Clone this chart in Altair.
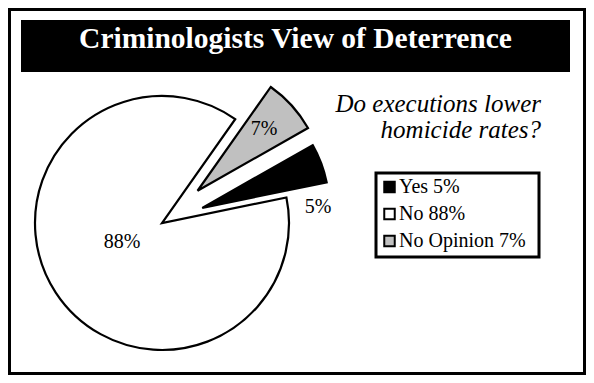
import math
import pandas as pd
import altair as alt

# ---------------- data ----------------
slice_labels = ["No Opinion", "Yes", "No"]          # clockwise drawing order
slice_values = [7, 5, 88]
slice_colors = ["#c0c0c0", "#000000", "#ffffff"]
legend_order = ["Yes", "No", "No Opinion"]
title_text = "Criminologists View of Deterrence"
question_lines = ["Do executions lower", "homicide rates?"]

# ---------------- style / geometry ----------------
OFF = 8                      # page margin
W, H = 578, 367
CX, CY = 162 - OFF, 223 - OFF
R = 127
START_DEG = 35.2
EXPLODE = [48, 43, 0]
LABEL_R = [86.7, 115.9, 47.2]
LABEL_DEG = [50.0, 92.5, 238.0]
SERIF = "Liberation Serif"

total = sum(slice_values)
rows = []
cum = 0
for i, (lab, v) in enumerate(zip(slice_labels, slice_values)):
    start = START_DEG + cum / total * 360
    mid = math.radians(start + v / total * 180)
    ax = CX + EXPLODE[i] * math.sin(mid)
    ay = CY - EXPLODE[i] * math.cos(mid)
    ld = math.radians(LABEL_DEG[i])
    rows.append({
        "label": lab, "value": v, "ord": i,
        "ax": ax, "ay": ay,
        "lx": ax + LABEL_R[i] * math.sin(ld),
        "ly": ay - LABEL_R[i] * math.cos(ld),
        "pct": f"{v}%",
        "legend_text": f"{lab} {v}%",
    })
    cum += v
df = pd.DataFrame(rows)

color = alt.Color("label:N", scale=alt.Scale(domain=slice_labels, range=slice_colors), legend=None)
one = alt.Data(values=[{"t": title_text, "q": "\n".join(question_lines)}])

border = alt.Chart(one).mark_rect(fill="white", stroke="black", strokeWidth=3).encode(
    x=alt.value(1.5), x2=alt.value(W - 1.5), y=alt.value(1.5), y2=alt.value(H - 1.5))

title_bar = alt.Chart(one).mark_rect(fill="black").encode(
    x=alt.value(21 - OFF), x2=alt.value(570 - OFF), y=alt.value(20 - OFF), y2=alt.value(72 - OFF))

title = alt.Chart(one).mark_text(
    font=SERIF, fontSize=29.5, fontWeight="bold", color="white", align="center", baseline="alphabetic"
).encode(x=alt.value(295.5 - OFF), y=alt.value(48 - OFF), text="t:N")

pie = alt.Chart(df).mark_arc(radius=R, stroke="black", strokeWidth=2.2, strokeJoin="miter").encode(
    theta=alt.Theta("value:Q", stack=True,
                    scale=alt.Scale(range=[math.radians(START_DEG), math.radians(START_DEG) + 2 * math.pi])),
    order=alt.Order("ord:Q"),
    x=alt.X("ax:Q", scale=None),
    y=alt.Y("ay:Q", scale=None),
    color=color,
)

pie_labels = alt.Chart(df).mark_text(
    font=SERIF, fontSize=20, color="black", align="center", baseline="alphabetic"
).encode(x=alt.X("lx:Q", scale=None), y=alt.Y("ly:Q", scale=None), text="pct:N")

question = alt.Chart(one).mark_text(
    font=SERIF, fontSize=25, fontStyle="italic", color="black", align="right",
    baseline="alphabetic", lineBreak="\n", lineHeight=26
).encode(x=alt.value(541 - OFF), y=alt.value(112 - OFF), text="q:N")

legend_box = alt.Chart(one).mark_rect(fill="white", stroke="black", strokeWidth=3).encode(
    x=alt.value(376 - OFF), x2=alt.value(539 - OFF), y=alt.value(173 - OFF), y2=alt.value(257 - OFF))

ly = alt.Y("label:N", scale=alt.Scale(type="point", domain=legend_order,
                                      range=[187 - OFF, 241 - OFF], padding=0), axis=None)

legend_sq = alt.Chart(df).mark_square(size=110, stroke="black", strokeWidth=2, opacity=1).encode(
    x=alt.value(389.5 - OFF), y=ly, color=color)

legend_txt = alt.Chart(df).mark_text(
    font=SERIF, fontSize=20, color="black", align="left", baseline="middle"
).encode(x=alt.value(399 - OFF), y=ly, text="legend_text:N")

chart = alt.layer(
    border, title_bar, title, pie, pie_labels, question, legend_box, legend_sq, legend_txt
).resolve_scale(
    x="independent", y="independent"
).properties(
    width=W, height=H, padding=0, background="white"
).configure_view(stroke=None)

chart.save("out.html", embed_options={"renderer": "svg", "actions": False})
